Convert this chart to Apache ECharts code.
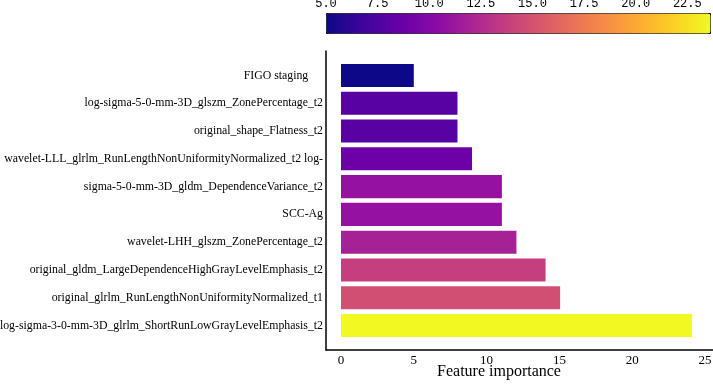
<!DOCTYPE html>
<html>
<head>
<meta charset="utf-8">
<script src="https://cdn.jsdelivr.net/npm/echarts@6/dist/echarts.min.js"></script>
<style>
  html, body { margin: 0; padding: 0; background: #fff; }
  #chart { width: 713px; height: 385px; }
</style>
</head>
<body>
<div id="chart"></div>
<script>
// features, top to bottom
const categories = [
  'FIGO staging     ',
  'log-sigma-5-0-mm-3D_glszm_ZonePercentage_t2',
  'original_shape_Flatness_t2',
  'wavelet-LLL_glrlm_RunLengthNonUniformityNormalized_t2 log-',
  'sigma-5-0-mm-3D_gldm_DependenceVariance_t2',
  'SCC-Ag',
  'wavelet-LHH_glszm_ZonePercentage_t2',
  'original_gldm_LargeDependenceHighGrayLevelEmphasis_t2',
  'original_glrlm_RunLengthNonUniformityNormalized_t1',
  'log-sigma-3-0-mm-3D_glrlm_ShortRunLowGrayLevelEmphasis_t2'
];
const importance = [5.0, 8.0, 8.0, 9.0, 11.05, 11.05, 12.05, 14.05, 15.05, 24.1];

// colorbar
const colorbarMin = 5;
const colorbarMax = 23.6;
const colorbarStep = 2.5;
const plasma = ['#0d0887', '#41049d', '#6a00a8', '#8f0da4', '#b12a90', '#cc4778',
  '#e16462', '#f2844b', '#fca636', '#fcce25', '#f0f921'];

const serif = 'Liberation Serif';

const chart = echarts.init(document.getElementById('chart'));

const option = {
  backgroundColor: '#fff',
  animation: false,
  grid: [
    // bars
    { left: 341, right: 8, top: 61.6, bottom: 45.6, outerBoundsMode: 'none' },
    // axis frame
    { left: 326, right: 0, top: 51, bottom: 35, outerBoundsMode: 'none' },
    // colorbar ticks
    { left: 326, width: 384, top: 13, height: 20, outerBoundsMode: 'none' }
  ],
  xAxis: [
    {
      gridIndex: 0,
      type: 'value',
      min: 0,
      max: 25,
      interval: 5,
      axisLine: { show: false },
      axisTick: { show: false },
      splitLine: { show: false },
      axisLabel: { margin: 15, color: '#000', fontFamily: serif, fontSize: 13 }
    },
    {
      gridIndex: 1,
      type: 'value',
      min: 0,
      max: 1,
      axisLine: { show: true, onZero: false, lineStyle: { color: '#000', width: 1.5 } },
      axisTick: { show: false },
      axisLabel: { show: false },
      splitLine: { show: false },
      name: 'Feature importance',
      nameLocation: 'middle',
      nameGap: 14,
      nameTextStyle: { color: '#000', fontFamily: serif, fontSize: 16, padding: [0, 41, 0, 0] }
    },
    {
      gridIndex: 2,
      type: 'value',
      position: 'top',
      min: colorbarMin,
      max: colorbarMax,
      interval: colorbarStep,
      axisLine: { show: false },
      axisTick: { show: false },
      splitLine: { show: false },
      axisLabel: {
        margin: 3,
        color: '#000',
        fontFamily: 'Liberation Mono',
        fontSize: 12,
        formatter: v => v.toFixed(1),
        showMaxLabel: false
      }
    }
  ],
  yAxis: [
    {
      gridIndex: 0,
      type: 'category',
      inverse: true,
      data: categories,
      axisLine: { show: false },
      axisTick: { show: false },
      axisLabel: { margin: 18, color: '#000', fontFamily: serif, fontSize: 11.8 }
    },
    {
      gridIndex: 1,
      type: 'value',
      min: 0,
      max: 1,
      axisLine: { show: true, onZero: false, lineStyle: { color: '#000', width: 1.5 } },
      axisTick: { show: false },
      axisLabel: { show: false },
      splitLine: { show: false }
    },
    {
      gridIndex: 2,
      type: 'value',
      show: false
    }
  ],
  visualMap: {
    type: 'continuous',
    orient: 'horizontal',
    seriesIndex: 0,
    dimension: 0,
    min: colorbarMin,
    max: importance[importance.length - 1],
    calculable: false,
    text: ['', ''],
    textGap: 0,
    left: 326,
    top: 13,
    itemWidth: 20,
    itemHeight: 384,
    padding: 0,
    borderColor: '#000',
    borderWidth: 1,
    inRange: { color: plasma }
  },
  series: [
    {
      type: 'bar',
      xAxisIndex: 0,
      yAxisIndex: 0,
      barCategoryGap: '17%',
      data: importance.map((v, i) => [v, categories[i]])
    }
  ]
};

chart.setOption(option);
</script>
</body>
</html>
